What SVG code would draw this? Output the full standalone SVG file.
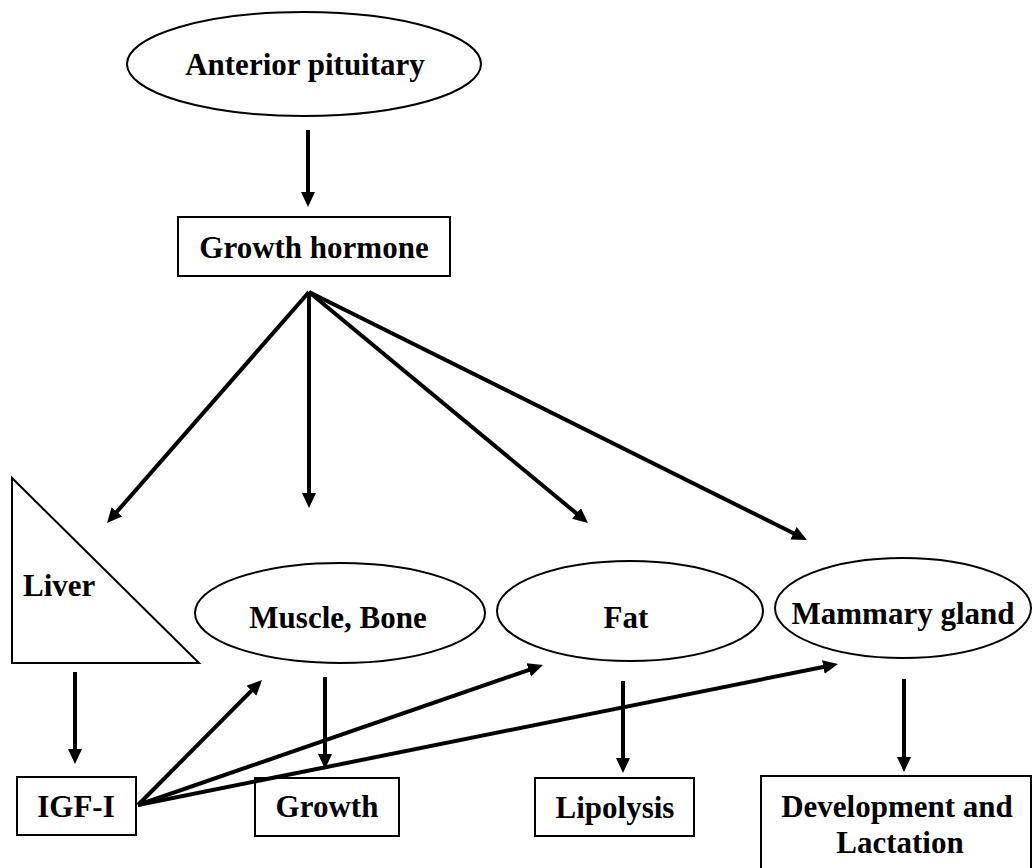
<svg xmlns="http://www.w3.org/2000/svg" width="1032" height="868" viewBox="0 0 1032 868">
<style>
.shape{fill:#fff;stroke:#000;stroke-width:2}
.lbl{font-family:"Liberation Serif","Times New Roman",serif;font-weight:bold;font-size:31px;fill:#000;text-anchor:middle}
.arr{stroke:#000;stroke-width:4;fill:none;marker-end:url(#ah)}
</style>
<defs>
<marker id="ah" markerUnits="userSpaceOnUse" markerWidth="16" markerHeight="15" refX="5" refY="7" orient="auto">
<path d="M0,0 L15,7 L0,14 z" fill="#000"/>
</marker>
</defs>
<rect width="1032" height="868" fill="#fff"/>
<g id="anterior-pituitary">
<ellipse class="shape" cx="304" cy="64" rx="177" ry="52"/>
<text class="lbl" x="305" y="75">Anterior pituitary</text>
</g>
<g id="growth-hormone">
<rect class="shape" x="178" y="217" width="272" height="59"/>
<text class="lbl" x="314" y="258">Growth hormone</text>
</g>
<g id="liver">
<polygon class="shape" points="12,478 12,663 199,663"/>
<text class="lbl" x="23" y="596" style="text-anchor:start">Liver</text>
</g>
<g id="muscle-bone">
<ellipse class="shape" cx="340" cy="613" rx="145" ry="50"/>
<text class="lbl" x="338" y="628">Muscle, Bone</text>
</g>
<g id="fat">
<ellipse class="shape" cx="630" cy="611" rx="133" ry="50"/>
<text class="lbl" x="626" y="628">Fat</text>
</g>
<g id="mammary-gland">
<ellipse class="shape" cx="903" cy="608" rx="128" ry="50"/>
<text class="lbl" x="903" y="624">Mammary gland</text>
</g>
<g id="igf-i">
<rect class="shape" x="17" y="777" width="119" height="58"/>
<text class="lbl" x="76" y="817">IGF-I</text>
</g>
<g id="growth">
<rect class="shape" x="255" y="778" width="144" height="58"/>
<text class="lbl" x="327" y="817">Growth</text>
</g>
<g id="lipolysis">
<rect class="shape" x="535" y="778" width="159" height="58"/>
<text class="lbl" x="615" y="818">Lipolysis</text>
</g>
<g id="development-lactation">
<rect class="shape" x="761" y="776" width="270" height="110"/>
<text class="lbl" x="897" y="817">Development and</text>
<text class="lbl" x="900" y="853">Lactation</text>
</g>
<g id="connectors">
<line class="arr" x1="308" y1="130" x2="308" y2="197"/>
<line class="arr" x1="309" y1="292" x2="113.6" y2="515.5"/>
<line class="arr" x1="309" y1="292" x2="309" y2="498"/>
<line class="arr" x1="309" y1="292" x2="580.3" y2="516.6"/>
<line class="arr" x1="309" y1="292" x2="798" y2="535.5"/>
<line class="arr" x1="75" y1="672" x2="75" y2="754"/>
<line class="arr" x1="325" y1="677" x2="325" y2="759"/>
<line class="arr" x1="623" y1="681" x2="623" y2="763"/>
<line class="arr" x1="904" y1="679" x2="904" y2="762"/>
<line class="arr" x1="138" y1="805" x2="255" y2="687.1"/>
<line class="arr" x1="138" y1="805" x2="533.5" y2="668.3"/>
<line class="arr" x1="138" y1="805" x2="828.2" y2="666"/>
</g>
</svg>
